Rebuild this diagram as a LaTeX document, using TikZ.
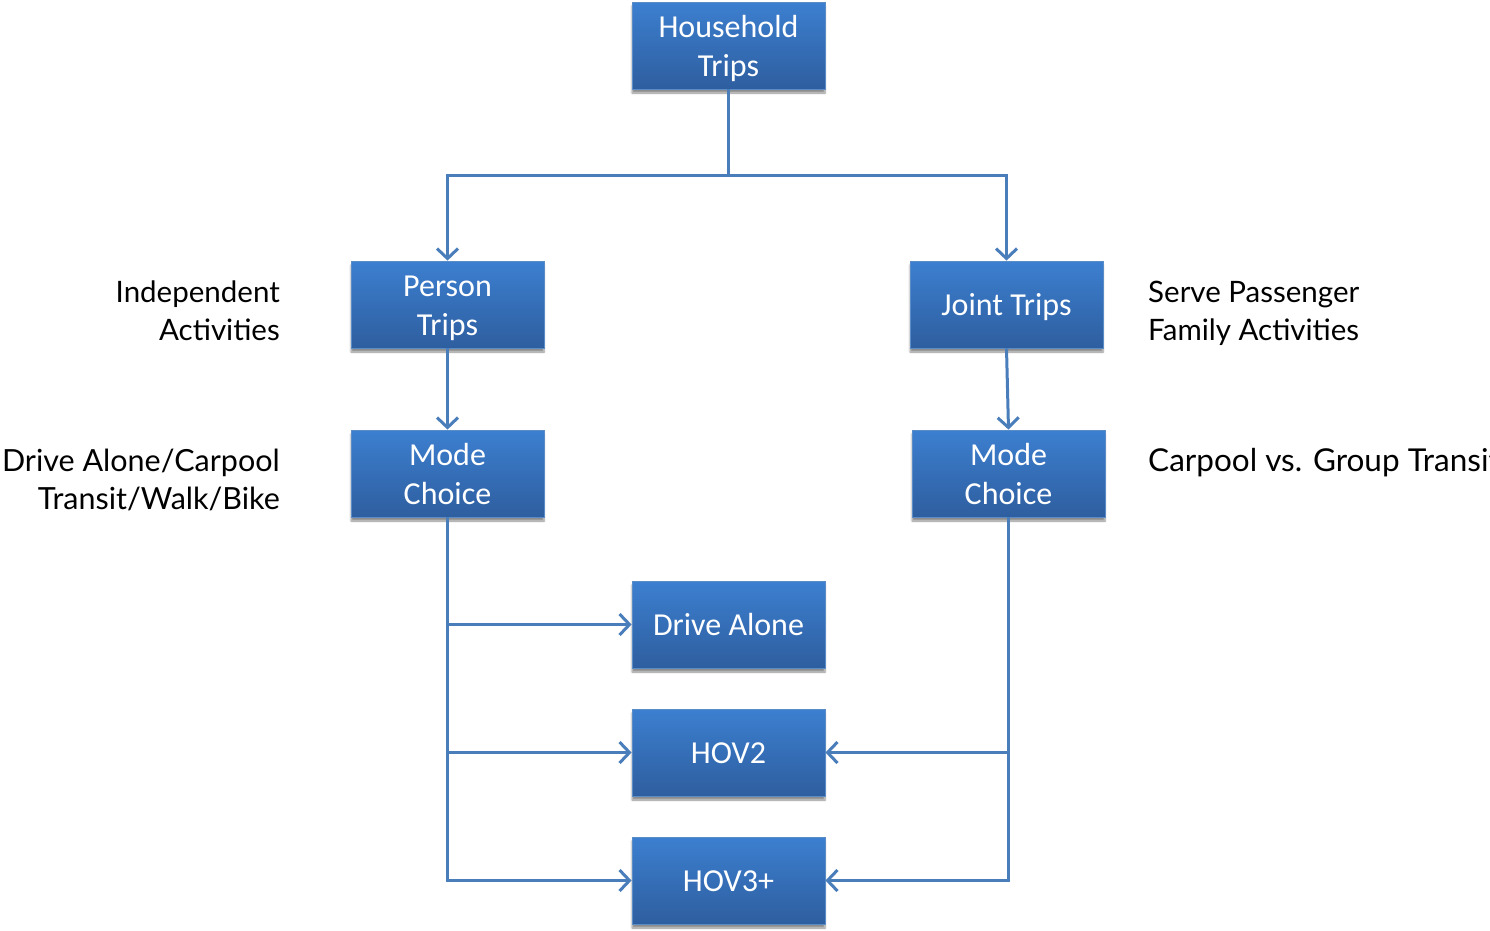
\documentclass[tikz,border=0pt]{standalone}
\usepackage{fontspec}
\setmainfont{Carlito}
\newfontfamily\sidefont{Lato}
\usetikzlibrary{arrows.meta,shadows.blur}
\definecolor{boxtop}{HTML}{3C7FD0}
\definecolor{boxbot}{HTML}{2E5E9F}
\definecolor{boxedge}{HTML}{5A8CC8}
\definecolor{linec}{HTML}{4A7EBB}
\newcommand\boxtext[1]{\raisebox{-3.5pt}[\height][\depth]{\begin{tabular}{@{}c@{}}#1\end{tabular}}}
\tikzset{
  box/.style={rectangle, minimum width=193pt, minimum height=87pt, inner sep=0pt,
    top color=boxtop, bottom color=boxbot, draw=boxedge, line width=0.8pt,
    text=white, align=center, font=\fontsize{32}{39}\selectfont,
    blur shadow={shadow xshift=0pt, shadow yshift=-4pt, shadow blur steps=6, shadow opacity=45}},
  arr/.style={draw=linec, line width=3pt, -{Straight Barb[length=10pt,width=21pt,line width=3pt]}},
  conn/.style={draw=linec, line width=3pt},
  side/.style={inner sep=0pt, font=\sidefont\fontsize{29.5}{38}\selectfont, text=black}
}
\begin{document}
\begin{tikzpicture}[x=1pt,y=-1pt]
\useasboundingbox (0,0) rectangle (1490,930);
\node[box] (hh) at (728.5,45.5) {\boxtext{Household\\Trips}};
\node[box] (pt) at (447.5,304.5) {\boxtext{Person\\Trips}};
\node[box] (jt) at (1006.5,304.5) {\boxtext{Joint Trips}};
\node[box] (mcl) at (447.5,473.5) {\boxtext{Mode\\Choice}};
\node[box] (mcr) at (1008.5,473.5) {\boxtext{Mode\\Choice}};
\node[box] (da) at (728.5,624.5) {\boxtext{Drive Alone}};
\node[box] (hov2) at (728.5,752.5) {\boxtext{HOV2}};
\node[box] (hov3) at (728.5,880.5) {\boxtext{HOV3+}};
\coordinate (split) at (728.5,175);
\draw[conn] (hh.south) -- (split);
\draw[arr] (split) -| (pt.north);
\draw[arr] (split) -| (jt.north);
\draw[arr] (pt.south) -- (mcl.north);
\draw[arr] (jt.south) -- (mcr.north);
\draw[arr] (mcl.south) |- (da.west);
\draw[arr] (mcl.south) |- (hov2.west);
\draw[arr] (mcl.south) |- (hov3.west);
\draw[arr] (mcr.south) |- (hov2.east);
\draw[arr] (mcr.south) |- (hov3.east);
\node[side, anchor=east, align=right] (l1) at (280,311) {Independent\\Activities};
\node[side, anchor=east, align=right, font=\sidefont\fontsize{30.5}{38}\selectfont] (l2) at (280,480) {Drive Alone/Carpool\\Transit/Walk/Bike};
\node[side, anchor=west, align=left] (r1) at (1148,313.5) {Serve Passenger\\Family Activities};
\node[side, anchor=west, align=left, font=\sidefont\fontsize{31.5}{38}\selectfont] (r2) at (1148,463) {Carpool vs. Group Transit};
\end{tikzpicture}
\end{document}
